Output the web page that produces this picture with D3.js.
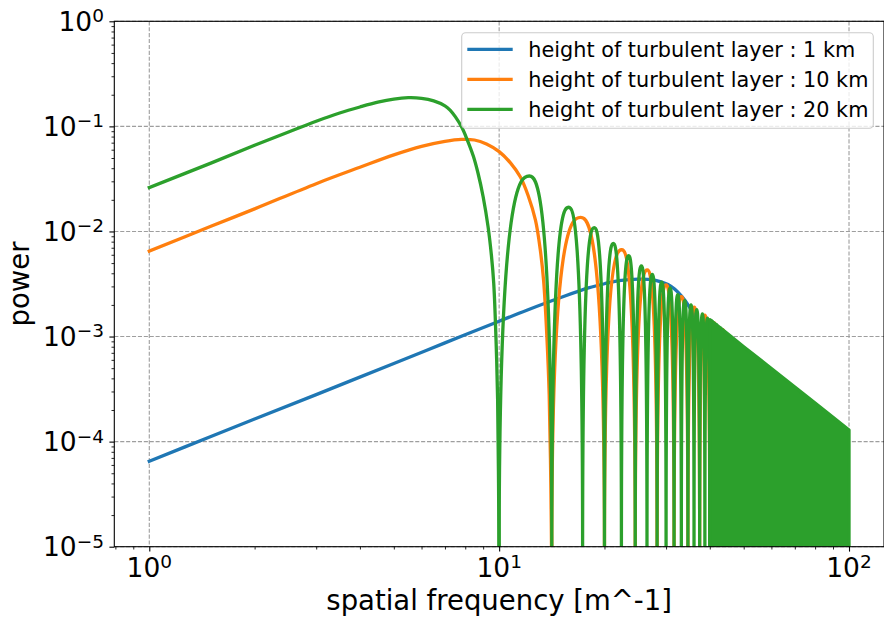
<!DOCTYPE html>
<html>
<head>
<meta charset="utf-8">
<script src="https://cdn.jsdelivr.net/npm/d3@7"></script>
<style>
  body { margin: 0; background: #fff; }
  svg { display: block; }
  text { font-family: "DejaVu Sans", sans-serif; fill: #000; }
</style>
</head>
<body>
<svg id="chart" width="884" height="620"></svg>
<script>
// ---- tick labels ----
const xMajor = [1, 10, 100];
const xMajorExp = ["0", "1", "2"];
const yMajor = [1e-5, 1e-4, 1e-3, 1e-2, 1e-1, 1];
const yMajorExp = ["\u22125", "\u22124", "\u22123", "\u22122", "\u22121", "0"];

// ---- series ----
const seriesNames = [
  "height of turbulent layer : 1 km",
  "height of turbulent layer : 10 km",
  "height of turbulent layer : 20 km"
];
const seriesColors = ["#1f77b4", "#ff7f0e", "#2ca02c"];

// smooth part of each spectrum, from f = 1 down to its first zero [frequency, power]
const blueMain = [
  [1, 6.5e-5], [1.5, 1.12e-4], [2, 1.64e-4], [3, 2.8e-4], [5, 5.55e-4], [7, 8.7e-4],
  [10, 1.4e-3], [12, 1.78e-3], [15, 2.35e-3], [18, 2.9e-3], [20, 3.18e-3], [22, 3.4e-3],
  [25, 3.52e-3], [28, 3.42e-3], [31, 3.0e-3], [34, 2.2e-3], [37, 1.35e-3], [40, 5.5e-4],
  [42, 1.8e-4], [43.8, 3e-5], [44.72, 5e-6]
];
const orangeMain = [
  [1, 6.5e-3], [1.5, 1.12e-2], [2, 1.64e-2], [3, 2.85e-2], [4, 4.08e-2], [5, 5.35e-2],
  [6, 6.45e-2], [7, 7.2e-2], [7.8, 7.52e-2], [8.5, 7.42e-2], [9.2, 6.8e-2], [10, 5.75e-2],
  [10.8, 4.45e-2], [11.5, 3.3e-2], [12.1, 2.2e-2], [12.7, 1.28e-2], [13.1, 6.8e-3],
  [13.4, 3.4e-3], [13.7, 9.5e-4], [13.9, 2.8e-4], [14.05, 4e-5], [14.14, 5e-6]
];
const greenMain = [
  [1, 2.62e-2], [1.5, 4.47e-2], [2, 6.62e-2], [2.5, 8.85e-2], [3, 0.112], [3.5, 0.134],
  [4, 0.153], [4.5, 0.170], [5, 0.182], [5.5, 0.1875], [6, 0.185], [6.5, 0.175],
  [7, 0.157], [7.24, 0.143], [7.5, 0.123], [7.82, 9.8e-2], [8.1, 7.5e-2], [8.44, 5.2e-2],
  [8.7, 3.6e-2], [9.0, 2.14e-2], [9.3, 1.1e-2], [9.5, 6e-3], [9.65, 3.2e-3], [9.8, 9e-4],
  [9.9, 2.5e-4], [9.96, 4e-5], [10, 5e-6]
];

// oscillation lobes past the first zero: zero crossings and lobe maxima [frequency, power]
const orangeZeros = [14.14, 20, 24.49, 28.28, 31.62, 34.64, 37.42, 40, 42.43, 44.72];
const orangePeaks = [
  [17.1, 0.0136], [22.4, 0.0067], [26.5, 0.0043], [30.0, 0.0031], [33.2, 0.0024],
  [36.1, 0.0019], [38.7, 0.0016], [41.2, 0.00135], [43.6, 0.00116]
];
const greenZeros = [10, 14.14, 17.32, 20, 22.36, 24.49, 26.46, 28.28, 30, 31.62, 33.17,
  34.64, 36.06, 37.42, 38.73, 40, 41.23, 42.43, 43.59, 44.72];
const greenPeaks = [
  [12.2, 0.0337], [15.8, 0.0170], [18.7, 0.0109], [21.2, 0.0077], [23.45, 0.0059],
  [25.5, 0.0047], [27.4, 0.0039], [29.15, 0.0033], [30.8, 0.0029], [32.4, 0.0025],
  [33.9, 0.0022], [35.35, 0.0020], [36.7, 0.0018], [38.1, 0.00164], [39.4, 0.0015],
  [40.6, 0.0014], [41.8, 0.0013], [43.0, 0.0012], [44.2, 0.0011]
];

// above ~40 the 20 km oscillations are denser than the pixels: upper envelope of the band
const greenBandTop = [
  [40, 1.45e-3], [45, 1.06e-3], [50, 8.0e-4], [60, 4.97e-4], [70, 3.31e-4],
  [80, 2.33e-4], [90, 1.70e-4], [100, 1.29e-4]
];

// ---- layout ----
const plot = { left: 114.3, right: 884, top: 21.3, bottom: 546.7 };
const LW = 3.3;

const x = d3.scaleLog().domain([Math.pow(10, -0.1), Math.pow(10, 2.1)]).range([plot.left, plot.right]);
const y = d3.scaleLog().domain([1e-5, 1]).range([plot.bottom, plot.top]);

const svg = d3.select("#chart");
svg.append("rect").attr("width", 884).attr("height", 620).attr("fill", "#fff");

svg.append("defs").append("clipPath").attr("id", "plotClip")
  .append("rect")
  .attr("x", plot.left).attr("y", plot.top)
  .attr("width", plot.right - plot.left).attr("height", plot.bottom - plot.top);

// ---- grid (major decades) ----
const grid = svg.append("g").attr("stroke", "#9e9e9e").attr("stroke-width", 1.1)
  .attr("stroke-dasharray", "4.1,1.8").attr("fill", "none");
grid.selectAll("line.gx").data(xMajor).join("line").attr("class", "gx")
  .attr("x1", d => x(d)).attr("x2", d => x(d)).attr("y1", plot.top).attr("y2", plot.bottom);
grid.selectAll("line.gy").data(yMajor).join("line").attr("class", "gy")
  .attr("y1", d => y(d)).attr("y2", d => y(d)).attr("x1", plot.left).attr("x2", plot.right);

// ---- data ----
const gData = svg.append("g").attr("clip-path", "url(#plotClip)");
const line = d3.line().x(d => x(d[0])).y(d => y(d[1])).curve(d3.curveCatmullRom.alpha(0.5));
const yFloor = plot.bottom + 4;

// each lobe is an arch from one zero crossing, up to its maximum, down to the next zero
function lobesPath(zeros, peaks) {
  const p = d3.path();
  peaks.forEach((pk, i) => {
    const xl = x(zeros[i]), xr = x(zeros[i + 1]);
    const xp = x(pk[0]), yp = y(pk[1]);
    p.moveTo(xl, yFloor);
    p.bezierCurveTo(xl, yp, xl + 0.72 * (xp - xl), yp, xp, yp);
    p.bezierCurveTo(xp + 0.28 * (xr - xp), yp, xr, yp, xr, yFloor);
  });
  return p.toString();
}

function strokeStyle(sel, color) {
  return sel.attr("fill", "none").attr("stroke", color).attr("stroke-width", LW)
    .attr("stroke-linejoin", "round").attr("stroke-linecap", "square");
}

strokeStyle(gData.append("path").datum(blueMain).attr("d", line), seriesColors[0]);

strokeStyle(gData.append("path").datum(orangeMain).attr("d", line), seriesColors[1]);
strokeStyle(gData.append("path").attr("d", lobesPath(orangeZeros, orangePeaks)), seriesColors[1])
  .attr("stroke-linecap", "butt");

strokeStyle(gData.append("path").datum(greenMain).attr("d", line), seriesColors[2]);
strokeStyle(gData.append("path").attr("d", lobesPath(greenZeros, greenPeaks)), seriesColors[2])
  .attr("stroke-linecap", "butt");

const band = d3.area().x(d => x(d[0])).y0(yFloor).y1(d => y(d[1]));
gData.append("path").datum(greenBandTop).attr("d", band)
  .attr("fill", seriesColors[2]).attr("stroke", seriesColors[2])
  .attr("stroke-width", LW).attr("stroke-linejoin", "round");

// ---- axes ----
const isDecade = v => Math.abs(Math.log10(v) - Math.round(Math.log10(v))) < 1e-9;
const xMinor = x.ticks().filter(v => !isDecade(v));
const yMinor = y.ticks().filter(v => !isDecade(v));

const axX = svg.append("g").attr("transform", `translate(0,${plot.bottom})`)
  .call(d3.axisBottom(x).tickValues(xMajor).tickSize(4.9).tickSizeOuter(0).tickFormat(() => ""));
const axXm = svg.append("g").attr("transform", `translate(0,${plot.bottom})`)
  .call(d3.axisBottom(x).tickValues(xMinor).tickSize(2.8).tickSizeOuter(0).tickFormat(() => ""));
const axY = svg.append("g").attr("transform", `translate(${plot.left},0)`)
  .call(d3.axisLeft(y).tickValues(yMajor).tickSize(4.9).tickSizeOuter(0).tickFormat(() => ""));
const axYm = svg.append("g").attr("transform", `translate(${plot.left},0)`)
  .call(d3.axisLeft(y).tickValues(yMinor).tickSize(2.8).tickSizeOuter(0).tickFormat(() => ""));

[axX, axXm, axY, axYm].forEach(g => {
  g.select(".domain").remove();
  g.selectAll("text").remove();
});
[axX, axY].forEach(g => g.selectAll("line").attr("stroke", "#000").attr("stroke-width", 1.1));
[axXm, axYm].forEach(g => g.selectAll("line").attr("stroke", "#000").attr("stroke-width", 0.85));

// power-of-ten labels
function powLabel(g, xp, yp, exp, anchor) {
  const t = g.append("text").attr("x", xp).attr("y", yp).attr("text-anchor", anchor)
    .attr("font-size", 26.5);
  t.append("tspan").text("10");
  t.append("tspan").attr("font-size", 18.5).attr("dy", -8.8).text(exp);
}
const labels = svg.append("g");
xMajor.forEach((v, i) => powLabel(labels, x(v), 576.5, xMajorExp[i], "middle"));
yMajor.forEach((v, i) => powLabel(labels, 104, y(v) + 9.7, yMajorExp[i], "end"));

// axis titles
svg.append("text").attr("x", (plot.left + plot.right) / 2).attr("y", 609.5)
  .attr("text-anchor", "middle").attr("font-size", 27.5).text("spatial frequency [m^-1]");
svg.append("text").attr("transform", `translate(28.5,${(plot.top + plot.bottom) / 2}) rotate(-90)`)
  .attr("text-anchor", "middle").attr("font-size", 27.5).text("power");

// frame
svg.append("rect").attr("x", plot.left).attr("y", plot.top)
  .attr("width", plot.right - plot.left).attr("height", plot.bottom - plot.top)
  .attr("fill", "none").attr("stroke", "#000").attr("stroke-width", 1.1);

// ---- legend ----
const lg = svg.append("g");
lg.append("rect").attr("x", 461.7).attr("y", 32.7).attr("width", 411.6).attr("height", 95.6)
  .attr("rx", 4).attr("fill", "#fff").attr("fill-opacity", 0.8)
  .attr("stroke", "#cccccc").attr("stroke-width", 1.1);
seriesNames.forEach((name, i) => {
  const ly = 49.3 + i * 30;
  lg.append("line").attr("x1", 467.3).attr("x2", 512.7).attr("y1", ly).attr("y2", ly)
    .attr("stroke", seriesColors[i]).attr("stroke-width", LW);
  lg.append("text").attr("x", 528.3).attr("y", ly + 7.2).attr("font-size", 20.8).text(name);
});
</script>
</body>
</html>
